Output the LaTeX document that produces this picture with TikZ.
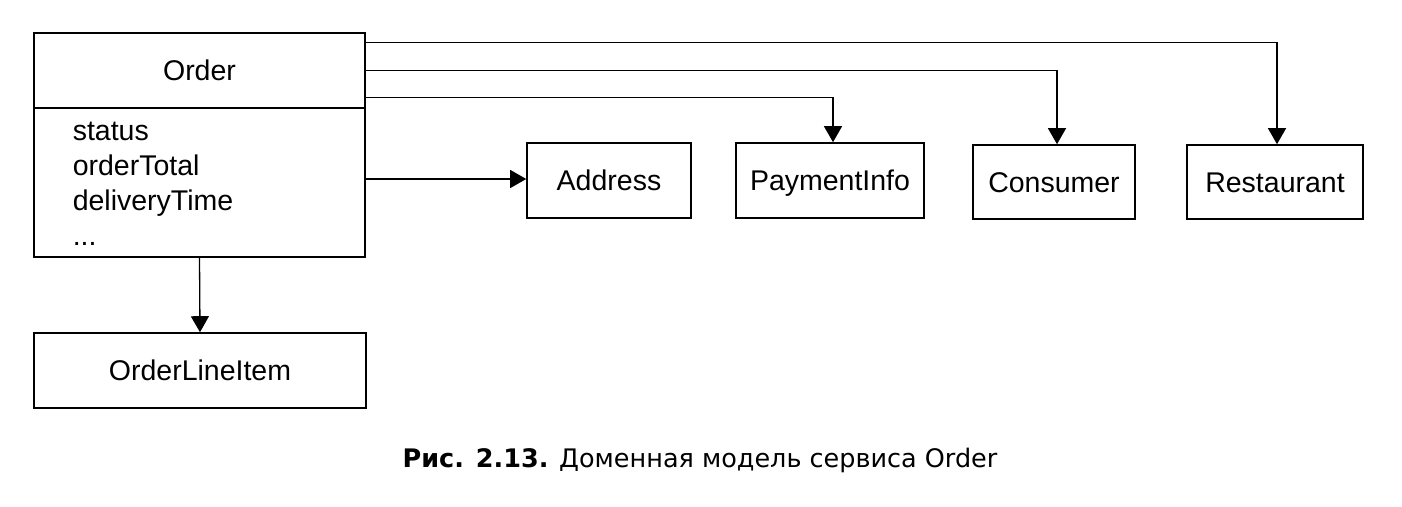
\documentclass[tikz,border=0pt]{standalone}
\usepackage{fontspec}
\setmainfont{Liberation Sans}
\newfontfamily\capfont{DejaVu Sans}
\usetikzlibrary{arrows.meta,positioning}
\begin{document}
\begin{tikzpicture}[x=1pt,y=-1pt,
  line width=1.5pt,
  box/.style={draw, line width=1.6pt, inner sep=0pt, text height=20.4pt, text depth=0pt,
    font=\fontsize{28.5}{34}\selectfont},
  arr/.style={draw, line width=1.3pt, -{Triangle[length=16pt,width=18pt]}},
  attr/.style={anchor=base west, inner sep=0pt, font=\fontsize{28.5}{34}\selectfont}]
\useasboundingbox (0,0) rectangle (1402,506);
% Order class
\node[box, minimum width=331pt, minimum height=75pt] (orderhead) at (199.5,70.5) {Order};
\node[box, minimum width=331pt, minimum height=149pt] (orderbody) at (199.5,182.5) {};
\node[attr] (a1) at (72,140) {status};
\node[attr] (a2) at (72,175) {orderTotal};
\node[attr] (a3) at (72,210) {deliveryTime};
\node[attr] (a4) at (72,245) {...};
% targets
\node[box, minimum width=164pt, minimum height=75pt] (address) at (609,180.5) {Address};
\node[box, minimum width=188pt, minimum height=75pt] (payment) at (830,180.5) {PaymentInfo};
\node[box, minimum width=162pt, minimum height=74pt] (consumer) at (1054,182) {Consumer};
\node[box, minimum width=176pt, minimum height=74pt] (restaurant) at (1275,182) {Restaurant};
\node[box, minimum width=332pt, minimum height=75pt] (lineitem) at (200,370.5) {OrderLineItem};
% connectors
\coordinate (addrstart) at ([yshift=3.5pt]orderbody.east);
\draw[arr] ([yshift=-10pt]orderhead.north east) -| ([xshift=2pt]restaurant.north);
\draw[arr] (orderhead.east) -| ([xshift=3pt]consumer.north);
\draw[arr] ([yshift=11pt]orderhead.south east) -| ([xshift=3pt]payment.north);
\draw[arr] (addrstart) -- (address.west |- addrstart);
\draw[arr] (orderbody.south) -- (lineitem.north);
% caption
\node[anchor=base, inner sep=0pt, font=\capfont\fontsize{25.5}{30}\selectfont] (cap) at (700,467)
  {\textbf{Рис. 2.13.} Доменная модель сервиса Order};
\end{tikzpicture}
\end{document}
